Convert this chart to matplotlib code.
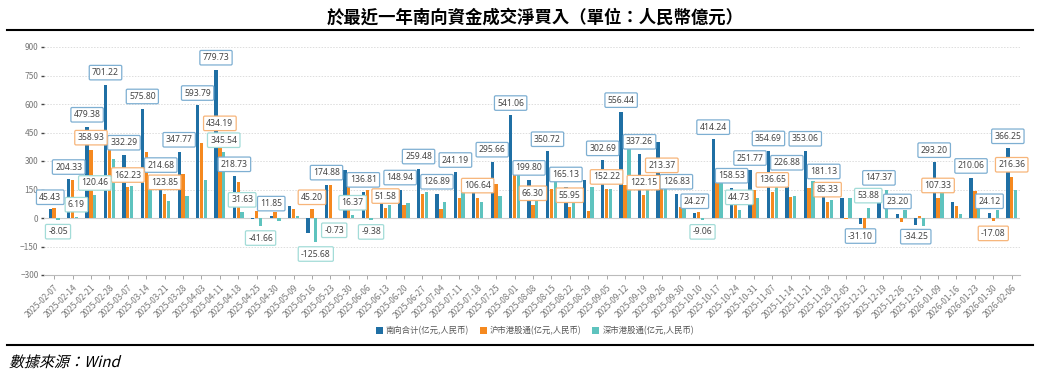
import numpy as np
import matplotlib.pyplot as plt
from matplotlib.lines import Line2D
from matplotlib.patches import Patch, PathPatch
from matplotlib.textpath import TextPath
from matplotlib.font_manager import FontProperties
from matplotlib.transforms import Affine2D, IdentityTransform

plt.rcParams['font.family'] = ['Noto Sans CJK SC', 'DejaVu Sans']

# weekly dates
dates = ['2025-02-07', '2025-02-14', '2025-02-21', '2025-02-28', '2025-03-07', '2025-03-14',
         '2025-03-21', '2025-03-28', '2025-04-03', '2025-04-11', '2025-04-18', '2025-04-25',
         '2025-04-30', '2025-05-09', '2025-05-16', '2025-05-23', '2025-05-30', '2025-06-06',
         '2025-06-13', '2025-06-20', '2025-06-27', '2025-07-04', '2025-07-11', '2025-07-18',
         '2025-07-25', '2025-08-01', '2025-08-08', '2025-08-15', '2025-08-22', '2025-08-29',
         '2025-09-05', '2025-09-12', '2025-09-19', '2025-09-26', '2025-09-30', '2025-10-10',
         '2025-10-17', '2025-10-24', '2025-10-31', '2025-11-07', '2025-11-14', '2025-11-21',
         '2025-11-28', '2025-12-05', '2025-12-12', '2025-12-19', '2025-12-26', '2025-12-31',
         '2026-01-09', '2026-01-16', '2026-01-23', '2026-01-30', '2026-02-06']

# 南向合计
south_total = [45.43, 204.33, 479.38, 701.22, 332.29, 575.80, 214.68, 347.77, 593.79, 779.73,
               218.73, -4.66, 11.85, 62.00, -80.48, 174.88, 254.00, 136.81, 118.00, 148.94,
               259.48, 126.89, 241.19, 190.00, 295.66, 541.06, 199.80, 350.72, 165.13, 200.00,
               302.69, 556.44, 337.26, 401.00, 126.83, 24.27, 414.24, 158.53, 251.77, 354.69,
               226.88, 353.06, 181.13, 103.00, -31.10, 147.37, 23.20, -34.25, 293.20, 85.00,
               210.06, 24.12, 366.25]
# 沪市港股通
sh_connect = [53.48, 198.14, 358.93, 393.00, 162.23, 350.00, 123.85, 230.00, 394.00, 434.19,
              187.10, 37.00, 30.00, 50.00, 45.20, 175.61, 238.00, 146.19, 51.58, 70.00,
              125.00, 45.00, 105.00, 106.64, 178.00, 268.00, 66.30, 155.00, 55.95, 36.00,
              152.22, 172.00, 122.15, 213.37, 58.00, 33.33, 185.00, 113.80, 147.00, 136.65,
              113.00, 160.00, 85.33, -3.00, -84.98, -2.00, -20.00, 10.00, 107.33, 62.00,
              143.00, -17.08, 216.36]
# 深市港股通
sz_connect = [-8.05, 6.19, 120.46, 308.22, 170.06, 225.80, 90.83, 117.77, 199.79, 345.54,
              31.63, -41.66, -18.15, 12.00, -125.68, -0.73, 16.37, -9.38, 66.42, 78.94,
              134.48, 81.89, 136.19, 83.36, 117.66, 273.06, 133.50, 195.72, 109.18, 164.00,
              150.47, 384.44, 215.11, 187.63, 68.83, -9.06, 229.24, 44.73, 104.77, 218.04,
              113.88, 193.06, 95.80, 106.00, 53.88, 149.37, 43.20, -44.25, 185.87, 23.00,
              67.06, 41.20, 149.89]

# which bars show a value box
total_labeled = [0, 1, 2, 3, 4, 5, 6, 7, 8, 9, 10, 12, 15, 17, 19, 20, 21, 22, 24, 25, 26, 27,
                 28, 30, 31, 32, 34, 35, 36, 37, 38, 39, 40, 41, 42, 44, 45, 46, 47, 48, 50, 51, 52]
sh_labeled = [2, 4, 6, 9, 14, 18, 23, 26, 28, 30, 32, 33, 39, 42, 48, 51, 52]
sz_labeled = [0, 1, 2, 9, 10, 11, 14, 15, 16, 17, 35, 37, 44]

names = ['南向合计(亿元,人民币)', '沪市港股通(亿元,人民币)', '深市港股通(亿元,人民币)']
colors = ['#1f6fa4', '#f5891f', '#5ec3be']
edges = ['#7eafd2', '#f7b57a', '#a3dcd8']

fig = plt.figure(figsize=(10.4, 3.76), dpi=100)
ax = fig.add_axes([44 / 1040, 1 - 275 / 376, 976 / 1040, 228 / 376])

x = np.arange(len(dates))
w = 0.18
series = [south_total, sh_connect, sz_connect]
labeled = [total_labeled, sh_labeled, sz_labeled]
offsets = [-0.21, 0, 0.21]

for vals, col, off in zip(series, colors, offsets):
    ax.bar(x + off, vals, w, color=col, zorder=3)

for vals, idxs, ec, off in zip(series, labeled, edges, offsets):
    for i in idxs:
        v = vals[i]
        up = v >= 0
        ax.annotate(f'{v:.2f}', (x[i] + off, v), xytext=(0, 5.5 if up else -5.5),
                    textcoords='offset points', ha='center',
                    va='bottom' if up else 'top', fontsize=6.2, color='#444444',
                    family=['Noto Sans', 'DejaVu Sans'], zorder=5,
                    bbox=dict(boxstyle='round,pad=0.32,rounding_size=0.15',
                              fc='white', ec=ec, lw=0.9))

ax.set_xlim(-0.55, len(dates) - 0.55)
ax.set_ylim(-300, 900)
ax.set_yticks(np.arange(-300, 901, 150))
ax.yaxis.grid(True, linestyle=(0, (1.5, 1.5)), color='#dddddd', lw=0.7, zorder=0)
ax.axhline(0, color='#cfcfcf', lw=0.8, zorder=2)

ax.set_xticks(x)
ax.set_xticklabels(dates, rotation=45, ha='right', rotation_mode='anchor',
                   fontsize=6, color='#777777')
ax.tick_params(axis='x', length=3, width=0.6, color='#999999', pad=3)
ax.tick_params(axis='y', length=2, width=1, color='#444444', pad=2,
               labelsize=6, labelcolor='#777777')

for s in ['top', 'right', 'left']:
    ax.spines[s].set_visible(False)
ax.spines['bottom'].set_color('#bbbbbb')
ax.spines['bottom'].set_linewidth(0.8)

handles = [Patch(facecolor=c, edgecolor='none') for c in colors]
fig.legend(handles, names, loc='center', bbox_to_anchor=(535 / 1040, 1 - 331 / 376),
           ncol=3, frameon=False, fontsize=6, handlelength=0.8, handleheight=0.8,
           handletextpad=0.4, columnspacing=1.3, labelcolor='#555555')

fig.text(0.515, 1 - 18 / 376, '於最近一年南向資金成交淨買入（單位：人民幣億元）',
         ha='center', va='center', fontsize=12.5, fontweight='bold',
         family=['Noto Sans CJK TC', 'DejaVu Sans'])
fig.add_artist(Line2D([7 / 1040, 1033 / 1040], [1 - 30 / 376] * 2, color='black', lw=1.5))
fig.add_artist(Line2D([7 / 1040, 1033 / 1040], [1 - 345 / 376] * 2, color='black', lw=1.5))

# slanted source note (CJK fonts have no italic face)
src = TextPath((0, 0), '數據來源：Wind', size=15,
               prop=FontProperties(family='Noto Sans CJK TC'))
src_tr = Affine2D().skew_deg(14, 0).translate(9, 376 - 367) + IdentityTransform()
fig.add_artist(PathPatch(src, transform=src_tr, color='black', lw=0))

fig.savefig('out.png', dpi=100)
